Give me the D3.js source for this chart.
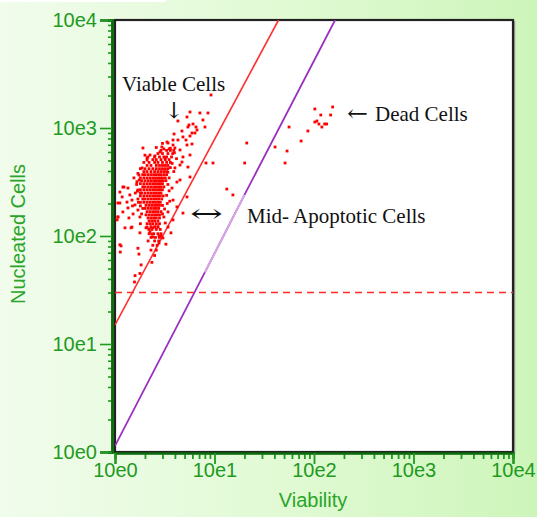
<!DOCTYPE html>
<html><head><meta charset="utf-8">
<script src="https://cdn.jsdelivr.net/npm/d3@7"></script>
<style>html,body{margin:0;padding:0;overflow:hidden;}svg{display:block;}</style>
</head><body>
<svg id="chart" width="537" height="517"></svg>
<script>
// ---------- DATA ----------
const decadeTicks = [1, 10, 100, 1000, 10000];
const tickLabels = ["10e0", "10e1", "10e2", "10e3", "10e4"];
const xTitle = "Viability";
const yTitle = "Nucleated Cells";

// gate lines: [viability, nucleated]
const viableGate = [[1, 15], [44, 10000]];
const apoptoticGate = [[1, 1.14], [8.0, 46], [20, 240], [163, 10000]];
const apoptoticHighlight = [[8.0, 46], [20, 240]];
const nucleatedThreshold = 30;

// dense core of viable cells: [nucleated, [viability values]]
const viableCoreRows = [
  [640, [3.1, 3.5]],
  [620, [2.9, 3.3, 3.6, 3.9]],
  [580, [2.7, 3.0, 3.4, 3.8]],
  [540, [2.5, 2.8, 3.1, 3.3, 3.7]],
  [510, [2.4, 2.6, 2.9, 3.2, 3.5]],
  [480, [2.2, 2.5, 2.7, 3.0, 3.3, 3.6]],
  [450, [2.1, 2.3, 2.6, 2.8, 3.0, 3.2, 3.4]],
  [420, [2.0, 2.2, 2.4, 2.6, 2.8, 3.0, 3.2, 3.4]],
  [395, [1.95, 2.1, 2.3, 2.5, 2.7, 2.9, 3.1, 3.3]],
  [370, [1.9, 2.0, 2.15, 2.3, 2.45, 2.6, 2.75, 2.9, 3.1, 3.3]],
  [345, [1.8, 1.95, 2.1, 2.25, 2.4, 2.55, 2.7, 2.85, 3.0, 3.2]],
  [325, [1.85, 2.0, 2.15, 2.3, 2.45, 2.6, 2.75, 2.9, 3.05, 3.25]],
  [305, [1.8, 1.95, 2.1, 2.25, 2.4, 2.55, 2.7, 2.85, 3.0]],
  [285, [1.9, 2.0, 2.15, 2.3, 2.45, 2.6, 2.75, 2.9, 3.1]],
  [268, [1.8, 1.95, 2.1, 2.25, 2.4, 2.55, 2.7, 2.85, 3.0]],
  [250, [1.85, 2.0, 2.15, 2.3, 2.45, 2.6, 2.75, 2.9]],
  [235, [1.8, 1.95, 2.1, 2.25, 2.4, 2.55, 2.7, 2.85, 3.05]],
  [220, [1.9, 2.0, 2.15, 2.3, 2.45, 2.6, 2.75, 2.95]],
  [205, [1.8, 1.95, 2.1, 2.25, 2.4, 2.55, 2.7, 2.85]],
  [192, [2.05, 2.2, 2.35, 2.5, 2.65, 2.8, 3.0]],
  [180, [1.9, 2.0, 2.15, 2.3, 2.45, 2.6, 2.75]],
  [168, [2.1, 2.25, 2.4, 2.55, 2.7, 2.9]],
  [157, [2.05, 2.2, 2.35, 2.5, 2.65, 2.8]],
  [147, [2.15, 2.3, 2.45, 2.6, 2.8]],
  [138, [2.2, 2.35, 2.5, 2.7]],
  [130, [2.1, 2.25, 2.4, 2.6, 2.8]],
  [122, [2.3, 2.5, 2.7]],
  [115, [2.2, 2.35, 2.6, 2.85]],
  [105, [2.2, 2.45, 2.7, 2.9]],
  [97, [2.3, 2.55, 2.8]],
  [90, [2.15, 2.5, 2.75]],
  [82, [2.4, 2.65]],
  [74, [2.3, 2.6]],
  [66, [2.5]]
];

// scattered viable cells: [viability, nucleated]
const viableScatter = [
  [1.12,255],[1.23,284],[1.35,278],[1.18,230],[1.41,240],[1.48,215],[1.32,206],[1.07,202],
  [1.59,194],[1.35,182],[1.20,167],[1.52,160],[1.70,174],[1.78,150],[1.07,150],[1.70,267],
  [1.74,367],[1.87,427],[2.10,527],[2.14,539],
  [4.0,427],[4.19,316],[3.74,278],[3.83,215],[3.41,167],[4.5,454],
  [5.29,1265],[5.67,1406],[7.14,1377],[8.60,1377],[7.65,1186],[4.29,1161],[6.08,1089],
  [5.41,1021],[6.51,1021],[8.02,1021],[4.71,938],[6.36,899],[5.67,843],[3.92,880],
  [4.29,774],[5.17,774],[5.94,711],[3.83,696],[3.41,726],[2.96,667],[4.5,626],[4.82,539],
  [2.83,600],[2.52,551],[3.18,527],[9.22,2022],[5.54,1066],[5.94,899],[6.67,958],
  [4.82,826],[5.29,696],[3.83,774],[3.33,742],[4.0,653],[5.67,562],[5.41,435],[4.71,484],
  [5.67,352],[4.5,330],[5.29,230],[4.19,186],[4.82,163],[3.83,141],[3.41,121],
  [1.91,653],[2.25,562],[2.10,505],[1.20,284],[1.12,202],[1.07,150],[1.26,119],[1.12,83],
  [1.48,121],[2.10,121],[2.25,109],[2.70,121],[2.41,98],
  [1.83,54],[1.70,77],[1.59,43],[1.15,81],[1.78,107],[2.35,104],[2.77,100],[3.03,96],
  [2.05,119],[2.19,116],[2.41,119],[1.45,119],[1.38,147],[1.05,141],[1.57,37.5],[1.74,68],
  [1.13,71],[1.78,45],[2.35,57],[2.77,86],[3.25,84],[3.65,107],[2.90,100],
  [1.8,420],[1.75,330],[1.8,250],[1.7,220],[1.8,190],[1.85,160],[1.8,130],
  [3.4,390],[3.5,345],[3.4,300],[3.5,262],[3.3,238],[3.35,200],[3.15,178],[3.1,150],[3.2,132],
  [1.95,480],[2.0,560],[2.6,660],[3.0,720],[3.6,650],[3.95,590],[4.15,520],[3.75,470],
  [3.9,395],[3.6,430],[3.55,210],[3.0,160],[1.65,300],[1.6,250],[1.55,345],[1.5,190],
  [1.7,380],[1.68,260],[1.72,205],[1.66,318]
];

const apoptoticCells = [
  [8.21,474],[9.66,474],[13.3,272],[15.3,240],[21.1,726],[20.1,474]
];

const deadCells = [
  [40.6,667],[51.2,474],[53.6,612],[56.1,1021],[74.2,758],[86.8,938],
  [102,1500],[154,1565],[117,1319],[147,1319],[102,1136],[107,1161],
  [112,1089],[120,1021],[128,1089],[134,1089]
];

// ---------- DRAW ----------
const svg = d3.select("#chart");
const W = 537, H = 517;
const L = 115, R = 513, T = 20, B = 452;

const defs = svg.append("defs");
const grad = defs.append("linearGradient").attr("id", "bg").attr("x1", "0").attr("x2", "1").attr("y1", "0").attr("y2", "0");
grad.append("stop").attr("offset", "0").attr("stop-color", "#f1fcec");
grad.append("stop").attr("offset", "0.55").attr("stop-color", "#e0fad3");
grad.append("stop").attr("offset", "1").attr("stop-color", "#cdf5ba");
svg.append("rect").attr("width", W).attr("height", H).attr("fill", "url(#bg)");
svg.append("rect").attr("x", 0).attr("y", 0).attr("width", 166).attr("height", 2).attr("fill", "#ffffff");

const x = d3.scaleLog().domain([1, 10000]).range([L, R]);
const y = d3.scaleLog().domain([1, 10000]).range([B, T]);

// plot frame
svg.append("rect").attr("x", L + 1.5).attr("y", T + 1.5).attr("width", R - L).attr("height", B - T)
  .attr("fill", "none").attr("stroke", "#9a9a9a").attr("stroke-width", 1.5);
svg.append("rect").attr("x", L).attr("y", T).attr("width", R - L).attr("height", B - T)
  .attr("fill", "#ffffff").attr("stroke", "#222").attr("stroke-width", 2.2);

const clip = defs.append("clipPath").attr("id", "plotclip");
clip.append("rect").attr("x", L).attr("y", T).attr("width", R - L).attr("height", B - T);
const plot = svg.append("g").attr("clip-path", "url(#plotclip)");

const line = d3.line().x(d => x(d[0])).y(d => y(d[1]));

// dashed threshold
plot.append("line").attr("x1", x(1)).attr("x2", x(10000))
  .attr("y1", y(nucleatedThreshold)).attr("y2", y(nucleatedThreshold))
  .attr("stroke", "#ff2a2a").attr("stroke-width", 1.5).attr("stroke-dasharray", "7,5");

// gates
plot.append("path").attr("d", line(viableGate)).attr("fill", "none")
  .attr("stroke", "#ff3030").attr("stroke-width", 1.6);
plot.append("path").attr("d", line(apoptoticGate)).attr("fill", "none")
  .attr("stroke", "#9a30c0").attr("stroke-width", 1.8);
plot.append("path").attr("d", line(apoptoticHighlight)).attr("fill", "none")
  .attr("stroke", "#d8a8e6").attr("stroke-width", 1.9);

// points
const corePts = [];
viableCoreRows.forEach(r => r[1].forEach(v => corePts.push([v, r[0]])));
const allPts = corePts.concat(viableScatter, apoptoticCells, deadCells);
const s = 2.8;
plot.append("g").selectAll("rect").data(allPts).join("rect")
  .attr("x", d => x(d[0]) - s / 2).attr("y", d => y(d[1]) - s / 2)
  .attr("width", s).attr("height", s).attr("fill", "#ff0000");

// axes
const green = "#1e9a1e";
const minorVals = [];
for (let e = 0; e < 4; e++) for (let m = 2; m <= 9; m++) minorVals.push(m * Math.pow(10, e));

const yAxisX = 112;
const yMinor = svg.append("g").attr("transform", `translate(${yAxisX},0)`)
  .call(d3.axisLeft(y).tickValues(minorVals).tickSize(4).tickFormat(""));
const yMajor = svg.append("g").attr("transform", `translate(${yAxisX},0)`)
  .call(d3.axisLeft(y).tickValues(decadeTicks).tickSize(12).tickPadding(3)
    .tickFormat((d, i) => tickLabels[i]));
[yMinor, yMajor].forEach(g => {
  g.select(".domain").attr("stroke", "#0b6a0b").attr("stroke-width", 2.5);
  g.selectAll(".tick line").attr("stroke", green).attr("stroke-width", 1.6);
});
yMajor.selectAll("text").attr("fill", green).attr("font-size", 20)
  .attr("font-family", "Liberation Sans, Arial, sans-serif");

const xAxisY = 453;
const xMinor = svg.append("g").attr("transform", `translate(0,${xAxisY})`)
  .call(d3.axisBottom(x).tickValues(minorVals).tickSize(6).tickFormat(""));
const xMajor = svg.append("g").attr("transform", `translate(0,${xAxisY})`)
  .call(d3.axisBottom(x).tickValues(decadeTicks).tickSize(11)
    .tickFormat((d, i) => tickLabels[i]));
[xMinor, xMajor].forEach(g => {
  g.select(".domain").attr("stroke", "#0b6a0b").attr("stroke-width", 2);
  g.selectAll(".tick line").attr("stroke", green).attr("stroke-width", 1.8);
});
xMajor.selectAll("text").attr("fill", green).attr("font-size", 20).attr("y", 10).attr("dy", "0.71em")
  .attr("font-family", "Liberation Sans, Arial, sans-serif");

// titles
svg.append("text").attr("x", 313).attr("y", 507).attr("text-anchor", "middle")
  .attr("fill", "#2aa52a").attr("font-size", 20).attr("font-family", "Liberation Sans, Arial, sans-serif")
  .text(xTitle);
svg.append("text").attr("transform", "translate(25,234) rotate(-90)").attr("text-anchor", "middle")
  .attr("fill", "#2aa52a").attr("font-size", 20).attr("font-family", "Liberation Sans, Arial, sans-serif")
  .text(yTitle);

// annotations
const serif = "Liberation Serif, Times New Roman, serif";
function ann(tx, ty, str, opts = {}) {
  const t = svg.append("text").attr("x", tx).attr("y", ty).attr("font-family", opts.font || serif)
    .attr("font-size", opts.size || 21).attr("fill", "#111").text(str);
  if (opts.anchor) t.attr("text-anchor", opts.anchor);
  if (opts.len) t.attr("textLength", opts.len).attr("lengthAdjust", "spacingAndGlyphs");
  return t;
}
ann(122, 91, "Viable Cells");
ann(174, 118, "↓", { anchor: "middle", size: 22, font: "DejaVu Serif, serif" });
ann(347, 121, "←", { len: 21, size: 23, font: "DejaVu Serif, serif" });
ann(375, 121, "Dead Cells");
ann(190, 222, "↔", { len: 33, size: 25, font: "DejaVu Serif, serif" });
ann(247, 223, "Mid- Apoptotic Cells");
</script>
</body></html>
